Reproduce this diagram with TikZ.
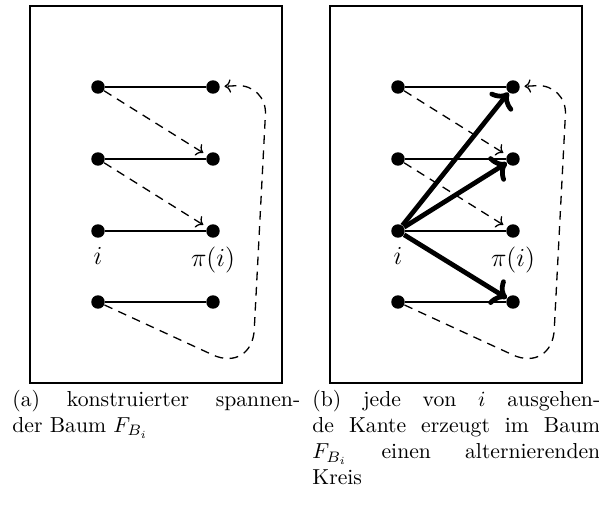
\documentclass[tikz,border=0pt]{standalone}
\usepackage{amsmath, amssymb}
\usepackage{tikz}
\usetikzlibrary{arrows.meta, positioning, calc}

\tikzset{
  dot/.style={circle, fill=black, inner sep=0pt, minimum size=6.2pt},
  frame/.style={line width=0.5pt},
  lbl/.style={anchor=north, inner sep=0pt, font=\large},
  subcap/.style={anchor=north west, inner sep=0pt, text width=132.7pt, align=justify, font=\normalsize},
  alt/.style={dash pattern=on 4pt off 3pt, line width=0.6pt, ->, shorten >=2pt},
}

\begin{document}
\begin{tikzpicture}[x=0.461pt, y=-0.461pt]
  \useasboundingbox (0,0) rectangle (599,507);
  % ================================================================
  % (a) spanning tree
  % ================================================================
  \begin{scope}[shift={(0,0)}]
    \draw[frame] (30,6) rectangle (282,383);
    \foreach \k/\y in {1/87, 2/159, 3/231, 4/302} {
      \node[dot] (a-l\k) at (98,\y) {};
      \node[dot] (a-r\k) at (213,\y) {};
      \draw[line width=1.2pt] (a-l\k) -- (a-r\k);
    }
    % dashed edges ---------------------------------------------------
    \draw[alt] (a-l1) -- (a-r2);
    \draw[alt] (a-l2) -- (a-r3);
    \coordinate (a-c1) at (252,373);
    \coordinate (a-c2) at (267,84);
    \draw[alt, rounded corners=20pt] (a-l4) -- (a-c1) [rounded corners=14pt] -- (a-c2) -- (a-r1);
    % labels ---------------------------------------------------------
    \node[lbl] (a-i) at (98,247) {$i$};
    \node[lbl] (a-pi) at (213,247) {$\pi(i)$};
    \node[subcap] (a-cap) at (12,390) {(a) konstruierter spannen-\linebreak der Baum $F_{B_i}$};
  \end{scope}
  % ================================================================
  % (b) alternating cycles
  % ================================================================
  \begin{scope}[shift={(300,0)}]
    \draw[frame] (30,6) rectangle (282,383);
    \foreach \k/\y in {1/87, 2/159, 3/231, 4/302} {
      \node[dot] (b-l\k) at (98,\y) {};
      \node[dot] (b-r\k) at (213,\y) {};
      \draw[line width=0.6pt] (b-l\k) -- (b-r\k);
    }
    % dashed edges ---------------------------------------------------
    \draw[alt] (b-l1) -- (b-r2);
    \draw[alt] (b-l2) -- (b-r3);
    \coordinate (b-c1) at (252,373);
    \coordinate (b-c2) at (267,84);
    \draw[alt, rounded corners=20pt] (b-l4) -- (b-c1) [rounded corners=14pt] -- (b-c2) -- (b-r1);
    % edges leaving i ------------------------------------------------
    \foreach \k in {1, 2, 4}
      \draw[->, line width=2.2pt] (b-l3) -- (b-r\k);
    % labels ---------------------------------------------------------
    \node[lbl] (b-i) at (98,247) {$i$};
    \node[lbl] (b-pi) at (213,247) {$\pi(i)$};
    \node[subcap] (b-cap) at (12,390) {(b) jede von $i$ ausgehen-\linebreak de Kante erzeugt im Baum\linebreak $F_{B_i}$ einen alternierenden\linebreak Kreis};
  \end{scope}
\end{tikzpicture}
\end{document}
